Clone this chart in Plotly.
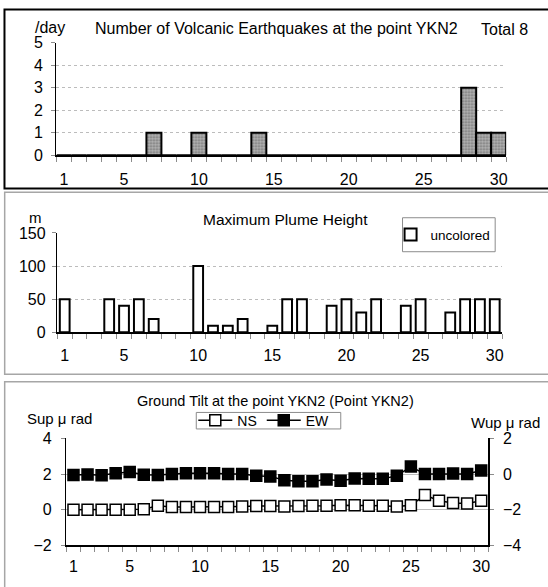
import plotly.graph_objects as go

# ---------------- data ----------------
days = list(range(1, 31))
x_tick_labels = [1, 5, 10, 15, 20, 25, 30]

# Number of volcanic earthquakes per day (top panel)
quakes = [0, 0, 0, 0, 0, 0, 1, 0, 0, 1, 0, 0, 0, 1, 0,
          0, 0, 0, 0, 0, 0, 0, 0, 0, 0, 0, 0, 3, 1, 1]
quake_total = 8

# Maximum plume height in m (middle panel); None = no observation
plume = [50, None, None, 50, 40, 50, 20, None, None, 100, 10, 10, 20, None, 10,
         50, 50, None, 40, 50, 30, 50, None, 40, 50, None, 30, 50, 50, 50]

# Ground tilt (bottom panel)
tilt_ns = [0.0, 0.0, 0.0, 0.0, 0.0, 0.02, 0.22, 0.15, 0.15, 0.15, 0.15, 0.15, 0.18, 0.2, 0.2,
           0.18, 0.2, 0.22, 0.22, 0.25, 0.25, 0.22, 0.22, 0.18, 0.25, 0.82, 0.5, 0.37, 0.35, 0.5]
tilt_ew = [-0.05, -0.03, -0.07, 0.05, 0.12, -0.04, -0.05, 0.0, 0.05, 0.05, 0.05, 0.0, 0.0, -0.1, -0.13,
           -0.35, -0.4, -0.4, -0.3, -0.38, -0.25, -0.27, -0.27, -0.1, 0.42, 0.0, 0.0, 0.03, 0.0, 0.2]

# ---------------- geometry helpers ----------------
W, H = 548, 587
def px(x):
    return x / W
def py(y):
    return 1 - y / H

FONT = "Liberation Sans, Arial, sans-serif"
TICKFONT = dict(family=FONT, size=16, color="black")

fig = go.Figure()

fig.add_trace(go.Bar(
    x=days, y=quakes, xaxis="x", yaxis="y", width=1.0,
    marker=dict(color="#9a9a9a", line=dict(color="black", width=2),
                pattern=dict(shape=".", fgcolor="#2e2e2e", bgcolor="#b4b4b4", size=3, solidity=0.4)),
    showlegend=False))

fig.add_trace(go.Bar(
    x=days, y=plume, xaxis="x2", yaxis="y2", width=0.66,
    marker=dict(color="white", line=dict(color="black", width=2)),
    name="uncolored", legend="legend", showlegend=True))

fig.add_trace(go.Scatter(
    x=days, y=tilt_ns, xaxis="x3", yaxis="y3", mode="lines+markers",
    line=dict(color="black", width=1.5),
    marker=dict(symbol="square", size=11, color="white", line=dict(color="black", width=1.5)),
    name="NS", legend="legend2"))

fig.add_trace(go.Scatter(
    x=days, y=tilt_ew, xaxis="x3", yaxis="y4", mode="lines+markers",
    line=dict(color="black", width=1.5),
    marker=dict(symbol="square", size=11, color="black", line=dict(color="black", width=1.5)),
    name="EW", legend="legend2"))

def xaxis_cfg(x0, x1, anchor, standoff):
    return dict(domain=[px(x0), px(x1)], anchor=anchor, range=[0.5, 30.5],
                tickmode="array", tickvals=x_tick_labels, ticktext=[str(v) for v in x_tick_labels],
                ticks="", showline=True, linecolor="black", linewidth=1.5,
                showgrid=False, zeroline=False, tickfont=TICKFONT,
                ticklabelstandoff=standoff,
                minor=dict(ticks="outside", tick0=0.5, dtick=1, ticklen=5,
                           tickcolor="#8c8c8c", tickwidth=1, showgrid=False))

def yaxis_cfg(y0, y1, anchor, rng, dtick, standoff, side="left", grid=True, griddash="dot"):
    return dict(domain=[py(y1), py(y0)], anchor=anchor, range=rng, dtick=dtick,
                side=side, showline=True, linecolor="black", linewidth=1.5,
                ticks="outside", ticklen=4, tickcolor="#8c8c8c",
                showgrid=grid, gridcolor="#bcbcbc", griddash=griddash, gridwidth=1,
                zeroline=False, tickfont=TICKFONT, ticklabelstandoff=standoff)

fig.update_layout(
    width=W, height=H, margin=dict(l=0, r=0, t=0, b=0),
    paper_bgcolor="white", plot_bgcolor="white",
    font=dict(family=FONT, size=14, color="black"),
    barmode="overlay", hovermode=False,
    xaxis=xaxis_cfg(56.7, 508, "y", 9),
    yaxis=yaxis_cfg(35.7, 151.7, "x", [0, 5], 1, 5),
    xaxis2=xaxis_cfg(57.5, 504, "y2", 8),
    yaxis2=yaxis_cfg(231.7, 334, "x2", [0, 150], 50, 3),
    xaxis3=xaxis_cfg(66.7, 490, "y3", 6),
    yaxis3=yaxis_cfg(443.3, 553.3, "x3", [-2, 4], 2, 6, griddash="solid"),
    yaxis4=dict(domain=[py(553.3), py(443.3)], anchor="x3", overlaying="y3", side="right",
                range=[-4, 2], dtick=2, showline=True, linecolor="black", linewidth=1.5,
                ticks="outside", ticklen=4, tickcolor="#8c8c8c", showgrid=False,
                zeroline=False, tickfont=TICKFONT, ticklabelstandoff=6),
    legend=dict(x=px(392), y=py(233.5), xanchor="left", yanchor="middle",
                bgcolor="rgba(0,0,0,0)", borderwidth=0,
                font=dict(family=FONT, size=13.5), itemwidth=30),
    legend2=dict(x=px(194), y=py(425), xanchor="left", yanchor="middle",
                 orientation="h", bgcolor="rgba(0,0,0,0)", borderwidth=0,
                 font=dict(family=FONT, size=14), itemwidth=34, tracegroupgap=0),
)

# panel borders
fig.add_shape(type="rect", xref="paper", yref="paper", x0=px(4.5), x1=1.05, y0=py(186), y1=py(1.5),
              line=dict(color="black", width=2), layer="below")
fig.add_shape(type="rect", xref="paper", yref="paper", x0=px(4.7), x1=1.05, y0=py(377.3), y1=py(189.8),
              line=dict(color="#a6a6a6", width=1.5), layer="below")
fig.add_shape(type="rect", xref="paper", yref="paper", x0=px(4.7), x1=1.05, y0=-0.05, y1=py(385),
              line=dict(color="#a6a6a6", width=1.5), layer="below")
# legend boxes
fig.add_shape(type="rect", xref="paper", yref="paper", x0=px(404), x1=px(497), y0=py(251), y1=py(216),
              line=dict(color="#8c8c8c", width=1), fillcolor="white", layer="above")
fig.add_shape(type="rect", xref="paper", yref="paper", x0=px(197), x1=px(342), y0=py(433.5), y1=py(416.5),
              line=dict(color="#8c8c8c", width=1), fillcolor="white", layer="above")

def txt(x, y, s, size=14, xanchor="center"):
    fig.add_annotation(x=px(x), y=py(y), xref="paper", yref="paper", text=s, showarrow=False,
                       xanchor=xanchor, yanchor="middle", font=dict(family=FONT, size=size, color="black"))

txt(33, 20, "/day", size=16, xanchor="left")
txt(278, 21, "Number of Volcanic Earthquakes at the point YKN2", size=16)
txt(506, 22, f"Total {quake_total}", size=16)
txt(36, 216, "m", size=15)
txt(287, 218, "Maximum Plume Height", size=15.5)
txt(277, 405, "Ground Tilt at the point YKN2 (Point YKN2)", size=14.5)
txt(59.5, 423, "Sup μ rad", size=15)
txt(507, 427, "Wup μ rad", size=15)

fig.write_html("out.html", config={"staticPlot": True, "displayModeBar": False},
               post_script="document.body.style.margin='0';document.body.style.overflow='hidden';")
